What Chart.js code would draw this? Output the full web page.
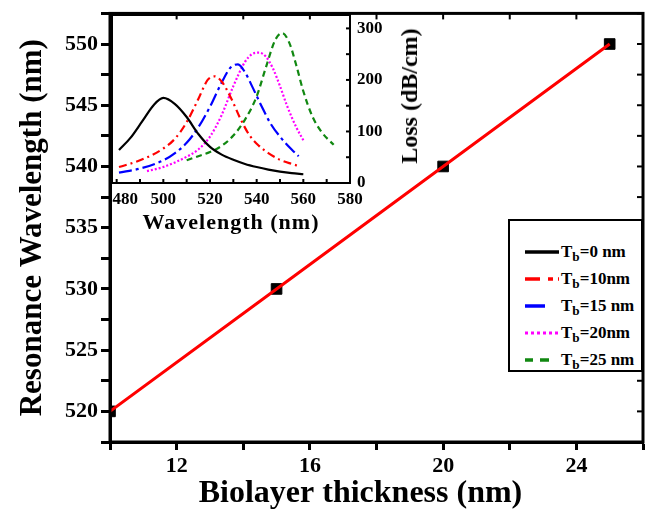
<!DOCTYPE html>
<html>
<head>
<meta charset="utf-8">
<script src="https://cdn.jsdelivr.net/npm/chart.js@4.4.1/dist/chart.umd.min.js"></script>
<style>
  html, body { margin: 0; padding: 0; background: #fff; }
  #wrap { position: relative; width: 648px; height: 513px; font-family: "Liberation Serif", "DejaVu Serif", serif; }
  #main { position: absolute; left: 0; top: 0; }
  #inset { position: absolute; left: 100px; top: 0; }
  .ttl { position: absolute; font-weight: bold; white-space: nowrap; line-height: 1; }
  #lossTitle { left: 409px; top: 96px; font-size: 24px; transform: translate(-50%, -50%) rotate(-90deg); }
  #wlTitle { left: 231px; top: 222px; font-size: 22px; letter-spacing: 1px; transform: translate(-50%, -50%); }
  #legend {
    position: absolute; left: 508px; top: 219px; width: 135px; height: 153px;
    box-sizing: border-box; border: 2px solid #000; background: #fff;
    padding-top: 17px;
  }
  .row { display: flex; align-items: center; height: 27px; padding-left: 15px; font-weight: bold; font-size: 17px; }
  .row svg { margin-right: 2px; }
  .row sub { font-size: 0.78em; vertical-align: -0.3em; line-height: 0; }
</style>
</head>
<body>
<div id="wrap">
  <canvas id="main" width="648" height="513"></canvas>
  <canvas id="inset" width="330" height="245"></canvas>
  <div class="ttl" id="lossTitle">Loss (dB/cm)</div>
  <div class="ttl" id="wlTitle">Wavelength (nm)</div>
  <div id="legend"></div>
</div>
<script>
// main plot: resonance wavelength vs biolayer thickness
const thickness = [10, 15, 20, 25];
const resonance = [520, 530, 540, 550];

// inset: loss spectra for each biolayer thickness
const wl0 = [481, 486, 491, 496, 500, 505, 510, 515, 520, 525, 530, 535, 540, 545, 550, 555, 560];
const loss0 = [64, 88, 120, 152, 165, 153, 128, 95, 70, 55, 45, 37, 31, 26, 22, 19, 17];
const wl10 = [481, 490, 500, 505, 510, 515, 519, 522, 525, 529, 533, 537, 541, 545, 550, 555, 558];
const loss10 = [31, 44, 67, 86, 118, 163, 200, 207, 197, 165, 125, 92, 72, 58, 45, 37, 33];
const wl15 = [481, 490, 500, 505, 510, 515, 520, 525, 529, 532, 535, 538, 542, 546, 550, 555, 558];
const loss15 = [20, 28, 44, 58, 78, 108, 148, 195, 225, 230, 215, 188, 150, 115, 90, 65, 52];
const wl20 = [493, 500, 505, 510, 515, 520, 525, 530, 535, 538, 541, 544, 547, 550, 553, 557, 560];
const loss20 = [23, 31, 40, 51, 65, 90, 132, 188, 235, 250, 253, 245, 222, 188, 150, 108, 83];
const wl25 = [510, 515, 520, 525, 530, 535, 540, 544, 548, 551, 554, 557, 560, 564, 568, 573];
const loss25 = [44, 52, 60, 72, 92, 123, 168, 225, 278, 291, 272, 228, 178, 128, 98, 74];

const seriesNames = ["0 nm", "10nm", "15 nm", "20nm", "25 nm"];
const seriesColors = ["#000000", "#ff0000", "#0000ff", "#ff00ff", "#118811"];
const seriesDash = [[], [8, 4, 2, 4], [13, 4, 3, 4], [2, 2], [6, 4]];
const legendDash = ["", "15 8 5 5", "20 14", "3 3", "8 7 9 10"];

const FONT = "'Liberation Serif', 'DejaVu Serif', serif";
Chart.defaults.color = "#000";
Chart.defaults.font.family = FONT;

// box around the plot area, plus inward ticks on the sides that need them
const framePlugin = {
  id: "frame",
  afterDraw(chart, args, opts) {
    const { ctx, chartArea: a, scales } = chart;
    const len = opts.tick || 6;
    ctx.save();
    ctx.strokeStyle = "#000";
    ctx.lineWidth = opts.width || 2;
    ctx.strokeRect(a.left, a.top, a.right - a.left, a.bottom - a.top);
    ctx.lineWidth = 2;
    const xs = scales.x.ticks.map((t) => scales.x.getPixelForValue(t.value));
    const ys = scales.y.ticks.map((t) => scales.y.getPixelForValue(t.value));
    if (opts.top) xs.forEach((px) => { ctx.beginPath(); ctx.moveTo(px, a.top); ctx.lineTo(px, a.top + len); ctx.stroke(); });
    if (opts.bottom) xs.forEach((px) => { ctx.beginPath(); ctx.moveTo(px, a.bottom); ctx.lineTo(px, a.bottom - len); ctx.stroke(); });
    if (opts.right) ys.forEach((py) => { ctx.beginPath(); ctx.moveTo(a.right, py); ctx.lineTo(a.right - len, py); ctx.stroke(); });
    ctx.restore();
  },
};

const axisBits = (tickLen, w, draw = true) => ({
  grid: { display: true, drawOnChartArea: false, drawTicks: draw, tickLength: tickLen, tickWidth: w, tickColor: "#000" },
  border: { display: true, color: "#000", width: w },
});

// fixed scale sizes, and no extra padding pulled in from the tick labels
const fixH = (h) => (s) => { s.height = h; s.paddingLeft = 0; s.paddingRight = 0; };
const fixW = (w) => (s) => { s.width = w; s.paddingTop = 0; s.paddingBottom = 0; };

new Chart(document.getElementById("main"), {
  type: "line",
  data: {
    datasets: [
      {
        type: "line",
        data: thickness.map((x, i) => ({ x, y: resonance[i] })),
        borderColor: "#ff0000",
        borderWidth: 3,
        pointRadius: 0,
        order: 0,
      },
      {
        type: "scatter",
        data: thickness.map((x, i) => ({ x, y: resonance[i] })),
        pointStyle: "rect",
        pointRadius: 7.5,
        backgroundColor: "#000",
        borderColor: "#000",
        order: 1,
      },
    ],
  },
  options: {
    responsive: false,
    animation: false,
    devicePixelRatio: 1,
    layout: { autoPadding: false, padding: { top: 13.4, right: 5, left: 0, bottom: 0 } },
    plugins: { legend: { display: false }, tooltip: { enabled: false }, frame: { width: 3, top: true, right: true } },
    scales: {
      x: {
        type: "linear", min: 10, max: 26,
        ...axisBits(8, 3),
        ticks: {
          stepSize: 2, padding: 3,
          font: { size: 22, weight: "bold", family: FONT },
          callback: (v) => (v % 4 === 0 ? v : ""),
        },
        title: { display: true, text: "Biolayer thickness (nm)\u00a0\u00a0\u00a0\u00a0", font: { size: 32, weight: "bold", family: FONT }, padding: { top: 0, bottom: 0 } },
        afterFit: fixH(71),
      },
      y: {
        type: "linear", min: 517.5, max: 552.5,
        ...axisBits(9, 3),
        ticks: {
          stepSize: 2.5, padding: 3,
          font: { size: 22, weight: "bold", family: FONT },
          callback: (v) => (v % 5 === 0 ? v : ""),
        },
        title: { display: true, text: "Resonance Wavelength (nm)", font: { size: 31, weight: "bold", family: FONT }, padding: { top: 14, bottom: 0 } },
        afterFit: fixW(110),
      },
    },
  },
  plugins: [framePlugin],
});

const insetWl = [wl0, wl10, wl15, wl20, wl25];
const insetLoss = [loss0, loss10, loss15, loss20, loss25];

new Chart(document.getElementById("inset"), {
  type: "line",
  data: {
    datasets: insetWl.map((wl, k) => ({
      data: wl.map((x, i) => ({ x, y: insetLoss[k][i] })),
      borderColor: seriesColors[k],
      borderDash: seriesDash[k],
      borderWidth: 2.2,
      pointRadius: 0,
      tension: 0.4,
      cubicInterpolationMode: "monotone",
    })),
  },
  options: {
    responsive: false,
    animation: false,
    devicePixelRatio: 1,
    layout: { autoPadding: false, padding: { top: 15, left: 12, right: 0, bottom: 0 } },
    plugins: { legend: { display: false }, tooltip: { enabled: false }, frame: { width: 2, tick: 4, bottom: true, right: true } },
    scales: {
      x: {
        type: "linear", min: 478, max: 580,
        ...axisBits(4, 2, false),
        ticks: {
          stepSize: 10, includeBounds: false, padding: 6, maxRotation: 0, autoSkip: false,
          font: { size: 17, weight: "bold", family: FONT },
          callback: (v, i) => (v % 20 !== 0 ? "" : i === 0 ? "\u00a0\u00a0\u00a0\u00a0" + v : v),
        },
        afterFit: fixH(62),
      },
      y: {
        type: "linear", position: "right", min: 0, max: 326,
        ...axisBits(4, 2, false),
        ticks: {
          stepSize: 50, includeBounds: false, padding: 7, autoSkip: false,
          font: { size: 17, weight: "bold", family: FONT },
          callback: (v) => (v % 100 === 0 ? v : ""),
        },
        afterFit: fixW(80),
      },
    },
  },
  plugins: [framePlugin],
});

// legend
const legend = document.getElementById("legend");
seriesNames.forEach((name, k) => {
  const row = document.createElement("div");
  row.className = "row";
  const dash = legendDash[k] ? ` stroke-dasharray="${legendDash[k]}"` : "";
  const sw = k === 3 ? 3 : 3.5;
  row.innerHTML =
    `<svg width="34" height="8"><line x1="0" y1="4" x2="34" y2="4" stroke="${seriesColors[k]}" stroke-width="${sw}"${dash}/></svg>` +
    `<span>T<sub>b</sub>=${name}</span>`;
  legend.appendChild(row);
});
</script>
</body>
</html>
